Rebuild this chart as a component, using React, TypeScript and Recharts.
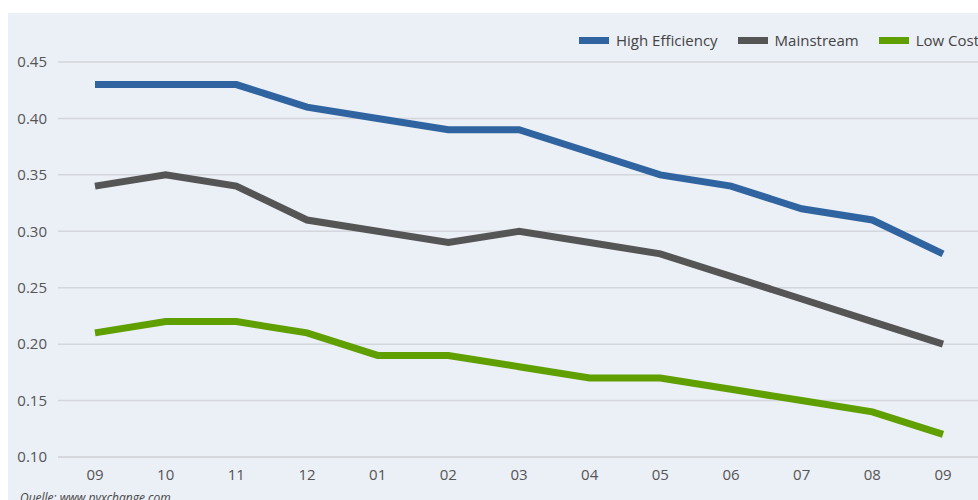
import React from "react"
import { LineChart, Line, XAxis, YAxis, CartesianGrid } from "recharts"

const months = ["09", "10", "11", "12", "01", "02", "03", "04", "05", "06", "07", "08", "09"]
const highEfficiency = [0.43, 0.43, 0.43, 0.41, 0.4, 0.39, 0.39, 0.37, 0.35, 0.34, 0.32, 0.31, 0.28]
const mainstream = [0.34, 0.35, 0.34, 0.31, 0.3, 0.29, 0.3, 0.29, 0.28, 0.26, 0.24, 0.22, 0.2]
const lowCost = [0.21, 0.22, 0.22, 0.21, 0.19, 0.19, 0.18, 0.17, 0.17, 0.16, 0.15, 0.14, 0.12]
const yTicks = [0.1, 0.15, 0.2, 0.25, 0.3, 0.35, 0.4, 0.45]

const series = [
  { key: "high", name: "High Efficiency", color: "#2F64A0" },
  { key: "main", name: "Mainstream", color: "#555555" },
  { key: "low", name: "Low Cost", color: "#5F9F00" },
]

const data = months.map((m, i) => ({
  month: m,
  idx: i,
  high: highEfficiency[i],
  main: mainstream[i],
  low: lowCost[i],
}))

const font = "'Open Sans', sans-serif"

function LegendRow() {
  return (
    <div
      style={{
        position: "absolute",
        top: 17,
        left: 571,
        display: "flex",
        fontFamily: font,
        fontSize: 15,
        color: "#444",
        whiteSpace: "nowrap",
      }}
    >
      {series.map((s) => (
        <div key={s.key} style={{ display: "flex", alignItems: "center", marginRight: 20 }}>
          <div style={{ width: 30, height: 7, background: s.color, marginRight: 7 }} />
          <span>{s.name}</span>
        </div>
      ))}
    </div>
  )
}

export default function App() {
  return (
    <div
      style={{
        position: "fixed",
        top: 13,
        left: 8,
        width: 970,
        height: 487,
        overflow: "hidden",
        background: "#EBEFF6",
      }}
    >
      <LineChart
        width={980}
        height={487}
        data={data}
        margin={{ top: 49, right: 8, bottom: 13, left: 0 }}
      >
        <CartesianGrid horizontal vertical={false} stroke="#D3D6DA" strokeWidth={1.5} />
        <XAxis
          dataKey="idx"
          type="category"
          height={30}
          tickFormatter={(v: number) => months[v]}
          padding={{ left: 37, right: 37 }}
          axisLine={{ stroke: "#D3D6DA", strokeWidth: 1.5 }}
          tickLine={false}
          tickSize={0}
          tickMargin={12}
          tick={{ fill: "#555", fontSize: 15, fontFamily: font }}
        />
        <YAxis
          domain={[0.1, 0.45]}
          ticks={yTicks}
          tickFormatter={(v: number) => v.toFixed(2)}
          width={50}
          axisLine={false}
          tickLine={false}
          tickSize={0}
          tickMargin={11}
          tick={{ fill: "#555", fontSize: 15, fontFamily: font }}
        />
        {series.map((s) => (
          <Line
            key={s.key}
            type="linear"
            dataKey={s.key}
            name={s.name}
            stroke={s.color}
            strokeWidth={7}
            dot={false}
            activeDot={false}
            isAnimationActive={false}
          />
        ))}
      </LineChart>
      <LegendRow />
      <div
        style={{
          position: "absolute",
          left: 12,
          top: 476,
          fontFamily: font,
          fontStyle: "italic",
          fontSize: 12,
          color: "#444",
        }}
      >
        Quelle: www.pvxchange.com
      </div>
    </div>
  )
}
